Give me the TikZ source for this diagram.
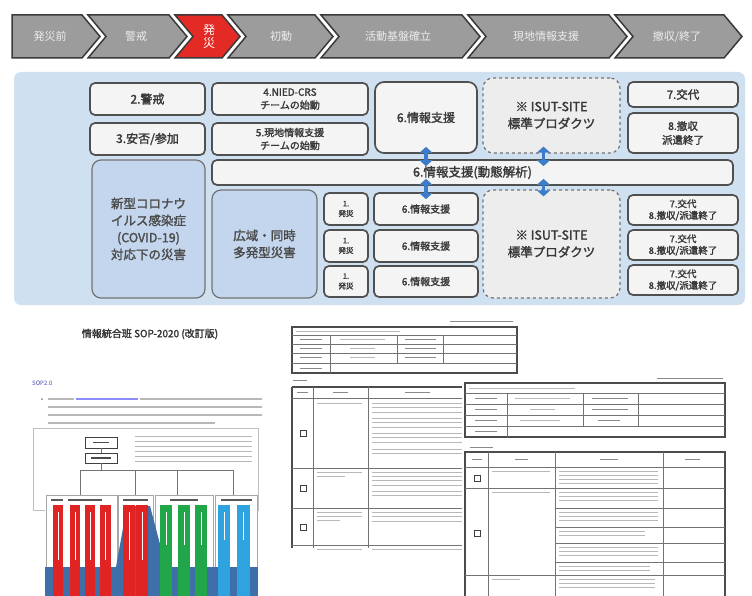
\documentclass[tikz,border=0pt]{standalone}
\usepackage{fontspec}
\setmainfont{Noto Sans CJK JP}[BoldFont={Noto Sans CJK JP},BoldFeatures={FakeBold=1.8}]
\usetikzlibrary{arrows.meta,calc}
\definecolor{panelbg}{HTML}{CFE0F1}
\definecolor{chevgray}{HTML}{9C9C9C}
\definecolor{chevred}{HTML}{E42A24}
\definecolor{chevline}{HTML}{3A3A3A}
\definecolor{boxline}{HTML}{505050}
\definecolor{boxfill}{HTML}{F4F4F4}
\definecolor{boxtext}{HTML}{383838}
\definecolor{blueboxfill}{HTML}{C3D6EE}
\definecolor{dashfill}{HTML}{EDEDED}
\definecolor{arrowblue}{HTML}{3D7CC9}
\definecolor{txtgray}{HTML}{B8B8B8}
\definecolor{txtdark}{HTML}{8A8A8A}
\definecolor{barred}{HTML}{E02424}
\definecolor{bargreen}{HTML}{22A64A}
\definecolor{barblue}{HTML}{2EA3E0}
\definecolor{basblue}{HTML}{3F6FA8}
\newcommand\fsz[2]{\fontsize{#1}{#2}\selectfont}
\newcommand\chev[3]{\filldraw[chevst,fill=#3] (#1,15) -- ({#2-18},15) -- (#2,36.5) -- ({#2-18},58) -- (#1,58) -- ({#1+18},36.5) -- cycle;}
\tikzset{
  chevst/.style={draw=chevline, line width=1.5pt, fill=chevgray},
  chevtxt/.style={text=white!85!gray, font=\fsz{11}{13}, inner sep=0pt},
  box/.style={draw=boxline, line width=1.7pt, fill=boxfill, rounded corners=5pt, text=boxtext, font=\bfseries, align=center, inner sep=1pt},
  bluebox/.style={box, fill=blueboxfill, text=boxtext!90!white, rounded corners=9pt, line width=1.2pt, draw=boxline!80!white},
  dbox/.style={draw=boxline!80!white, dashed, line width=1.2pt, fill=dashfill, rounded corners=10pt, text=boxtext, font=\bfseries, align=center},
  biarrow/.style={draw=arrowblue, line width=3.6pt, {Triangle[length=6pt,width=13pt]}-{Triangle[length=6pt,width=13pt]}, shorten <=-7pt, shorten >=-7pt},
  txt/.style={draw=txtgray, line width=1.3pt},
  txtd/.style={draw=txtdark, line width=1.3pt},
  rule/.style={draw=black!70, line width=0.8pt},
  rulethin/.style={draw=black!55, line width=0.5pt},
  chk/.style={draw=black!75, line width=0.8pt, minimum size=6pt, inner sep=0pt}
}
\begin{document}
\begin{tikzpicture}[x=1pt,y=-1pt]
\useasboundingbox (0,0) rectangle (752,596);
\fill[white] (0,0) rectangle (752,596);

% ---------- chevron bar ----------
\filldraw[chevst] (12,15) -- (82,15) -- (100,36.5) -- (82,58) -- (12,58) -- cycle;
\chev{88}{187}{chevgray}
\chev{175}{240}{chevred}
\chev{228}{333}{chevgray}
\chev{321}{480}{chevgray}
\chev{468}{627}{chevgray}
\chev{615}{742}{chevgray}
\node[chevtxt] (c1) at (50,36.5) {発災前};
\node[chevtxt] (c2) at (136,36.5) {警戒};
\node[chevtxt, text=white, align=center, font=\fsz{12}{13}] (c3) at (209,36.5) {発\\災};
\node[chevtxt] (c4) at (281,36.5) {初動};
\node[chevtxt] (c5) at (398,36.5) {活動基盤確立};
\node[chevtxt] (c6) at (546,36.5) {現地情報支援};
\node[chevtxt] (c7) at (677,36.5) {撤収/終了};

% ---------- blue panel ----------
\fill[panelbg, rounded corners=7pt] (14,72) rectangle (745,305);

% upper rows
\node[box, minimum width=115pt, minimum height=32pt, font=\bfseries\fsz{12}{14}] (warn) at (147.5,99) {2.警戒};
\node[box, minimum width=115pt, minimum height=32pt, font=\bfseries\fsz{12}{14}] (anpi) at (147.5,139) {3.安否/参加};
\node[box, minimum width=156pt, minimum height=32pt, font=\bfseries\fsz{10}{13}] (nied) at (290,99) {4.NIED-CRS\\チームの始動};
\node[box, minimum width=156pt, minimum height=32pt, font=\bfseries\fsz{10}{13}] (genchi) at (290,139) {5.現地情報支援\\チームの始動};
\node[box, minimum width=102pt, minimum height=71pt, rounded corners=9pt, font=\bfseries\fsz{12}{14}] (info1) at (426,117.5) {6.情報支援};
\node[dbox, minimum width=137pt, minimum height=75pt, font=\bfseries\fsz{12.5}{17}] (isut1) at (551.5,115.5) {※ ISUT-SITE\\標準プロダクツ};
\node[box, minimum width=110pt, minimum height=25pt, font=\bfseries\fsz{11.5}{13}] (kotai1) at (683,94.5) {7.交代};
\node[box, minimum width=110pt, minimum height=40pt, font=\bfseries\fsz{10.5}{14}] (tesshu1) at (683,133) {8.撤収\\派遣終了};

% middle bar
\node[box, minimum width=521pt, minimum height=25pt, font=\bfseries\fsz{12.5}{14}] (bar) at (472.5,172.5) {6.情報支援(動態解析)};

% lower rows
\node[bluebox, minimum width=113pt, minimum height=138pt, font=\bfseries\fsz{12.5}{17}] (covid) at (148.5,229) {新型コロナウ\\イルス感染症\\(COVID-19)\\対応下の災害};
\node[bluebox, minimum width=105pt, minimum height=108pt, font=\bfseries\fsz{12.5}{17}] (kouiki) at (264.5,244) {広域・同時\\多発型災害};

\node[box, minimum width=44pt, minimum height=32pt, font=\bfseries\fsz{7.5}{10}] (g1) at (346,209) {1.\\発災};
\node[box, minimum width=44pt, minimum height=32pt, font=\bfseries\fsz{7.5}{10}] (g2) at (346,246) {1.\\発災};
\node[box, minimum width=44pt, minimum height=31pt, font=\bfseries\fsz{7.5}{10}] (g3) at (346,281.5) {1.\\発災};

\node[box, minimum width=104pt, minimum height=32pt, font=\bfseries\fsz{10}{12}] (i2) at (426,209) {6.情報支援};
\node[box, minimum width=104pt, minimum height=32pt, font=\bfseries\fsz{10}{12}] (i3) at (426,246) {6.情報支援};
\node[box, minimum width=104pt, minimum height=31pt, font=\bfseries\fsz{10}{12}] (i4) at (426,281.5) {6.情報支援};

\node[dbox, minimum width=137pt, minimum height=108pt, font=\bfseries\fsz{12.5}{17}] (isut2) at (551.5,244) {※ ISUT-SITE\\標準プロダクツ};

\node[box, minimum width=110pt, minimum height=30pt, font=\bfseries\fsz{9.5}{11.5}] (k2) at (683,210) {7.交代\\8.撤収/派遣終了};
\node[box, minimum width=110pt, minimum height=30pt, font=\bfseries\fsz{9.5}{11.5}] (k3) at (683,245) {7.交代\\8.撤収/派遣終了};
\node[box, minimum width=110pt, minimum height=30pt, font=\bfseries\fsz{9.5}{11.5}] (k4) at (683,280) {7.交代\\8.撤収/派遣終了};

% blue arrows
\draw[biarrow] (info1.south) -- (info1.south |- bar.north);
\draw[biarrow] (i2.north |- bar.south) -- (i2.north);
\coordinate (au) at ($(isut1.south)+(-8,0)$);
\coordinate (ad) at ($(isut2.north)+(-8,0)$);
\draw[biarrow] (au) -- (au |- bar.north);
\draw[biarrow] (ad |- bar.south) -- (ad);

% ---------- lower left: SOP document ----------
\node[font=\bfseries\fsz{10}{12}, text=black!80] (sopT) at (150,334) {情報統合班 SOP-2020 (改訂版)};
\node[font=\fsz{6}{7}, text=blue!40!gray, anchor=west, inner sep=0pt] (sopH) at (32,383) {SOP2.0};
\fill[txtdark] (42,399) circle (1pt);
\draw[txt] (48,399) -- (74,399);
\draw[draw=blue!45!white, line width=1.3pt] (76,399) -- (138,399);
\draw[txt] (140,399) -- (262,399);
\draw[txt] (48,407) -- (262,407);
\draw[txt] (48,415) -- (262,415);
\draw[txt] (48,423) -- (215,423);
\draw[draw=black!25, line width=0.6pt] (33,428) rectangle (258,510);
% org chart
\node[draw=black!75, line width=0.7pt, minimum width=32pt, minimum height=11pt, inner sep=0pt] (ob1) at (101,442.5) {};
\node[draw=black!75, line width=0.7pt, minimum width=32pt, minimum height=10pt, inner sep=0pt] (ob2) at (101,458) {};
\draw[line width=1.4pt, black!70] (93,442.5) -- (109,442.5);
\draw[line width=1.4pt, black!70] (91,458) -- (111,458);
\draw[rulethin] (ob1) -- (ob2);
\foreach \yy in {436,441,446,451,456,461} {\draw[txt, line width=1pt] (135,\yy) -- (252,\yy);}
\coordinate (hl) at (80,470);
\coordinate (hr) at (233,470);
\draw[draw=black!55, line width=1pt] (ob2.south) -- (ob2.south |- hl);
\draw[draw=black!55, line width=1pt] (hl) -- (hr);
\foreach \xx in {80,135,177,233} {\draw[draw=black!55, line width=1pt] (\xx,470) -- (\xx,495);}
% group area
\fill[white] (45,495) rectangle (258,596);
\draw[draw=black!35, line width=0.6pt] (46,495) rectangle (117,567);
\draw[draw=black!35, line width=0.6pt] (118,495) rectangle (153,567);
\draw[draw=black!35, line width=0.6pt] (155,495) rectangle (213,567);
\draw[draw=black!35, line width=0.6pt] (215,495) rectangle (257,567);
\draw[line width=1.5pt, black!65] (51,500) -- (63,500);
\draw[line width=1.5pt, black!65] (68,500) -- (102,500);
\draw[line width=1.5pt, black!65] (123,500) -- (148,500);
\draw[line width=1.5pt, black!65] (170,500) -- (198,500);
\draw[line width=1.5pt, black!65] (221,500) -- (252,500);
% blue base and mountain
\fill[basblue] (45,567) rectangle (258,596);
\fill[basblue] (116,567) -- (127,506) -- (150,506) -- (166,567) -- cycle;
% bars
\foreach \xa/\xb in {53/63,70/80,85/95,100/111,123/135,136/148} {\fill[barred] (\xa,505) rectangle (\xb,596); \draw[white, line width=0.6pt] ({(\xa+\xb)/2},512) -- ({(\xa+\xb)/2},560);}
\foreach \xa/\xb in {160/172,178/190,195/207} {\fill[bargreen] (\xa,505) rectangle (\xb,596); \draw[white, line width=0.6pt] ({(\xa+\xb)/2},512) -- ({(\xa+\xb)/2},545);}
\foreach \xa/\xb in {218/230,237/250} {\fill[barblue] (\xa,505) rectangle (\xb,596); \draw[white, line width=0.6pt] ({(\xa+\xb)/2},512) -- ({(\xa+\xb)/2},540);}

% ---------- lower right: document A (back) ----------
\draw[txtd, line width=1pt] (450,321) -- (513,321);
\draw[rule, line width=1.2pt] (292,327) rectangle (517,373);
\draw[rulethin] (292,335) -- (517,335);
\draw[txt, line width=0.9pt] (296,331) -- (400,331);
\foreach \yy in {344,353,363} {\draw[rulethin] (292,\yy) -- (517,\yy);}
\draw[rulethin] (330,335) -- (330,373);
\draw[rulethin] (397,335) -- (397,363);
\draw[rulethin] (443,335) -- (443,363);
\draw[txtd, line width=1pt] (300,339.5) -- (322,339.5);
\draw[txtd, line width=1pt] (300,348.5) -- (322,348.5);
\draw[txtd, line width=1pt] (300,357.5) -- (322,357.5);
\draw[txtd, line width=1pt] (300,368) -- (322,368);
\draw[txtd, line width=1pt] (405,339.5) -- (436,339.5);
\draw[txtd, line width=1pt] (405,348.5) -- (436,348.5);
\draw[txtd, line width=1pt] (405,357.5) -- (436,357.5);
\draw[txt, line width=1pt] (340,339.5) -- (385,339.5);
\draw[txt, line width=1pt] (350,348.5) -- (375,348.5);
\draw[txt, line width=1pt] (350,357.5) -- (375,357.5);
\draw[txtd, line width=1pt] (293,380) -- (307,380);
\draw[rule, line width=1.2pt] (292,387) -- (470,387);
\draw[rule, line width=1.2pt] (292,387) -- (292,548);
\draw[rulethin] (292,398) -- (470,398);
\draw[rulethin] (313,387) -- (313,548);
\draw[rulethin] (368,387) -- (368,548);
\foreach \yy in {468,508,545} {\draw[rulethin] (292,\yy) -- (470,\yy);}
\draw[txtd, line width=1pt] (297,392.5) -- (308,392.5);
\draw[txtd, line width=1pt] (333,392.5) -- (348,392.5);
\draw[txtd, line width=1pt] (405,392.5) -- (430,392.5);
\node[chk] (ca1) at (303,433) {};
\node[chk] (ca2) at (303,488) {};
\node[chk] (ca3) at (303,527) {};
\foreach \yy in {403,407,412,418,422,427,433,437,442,449,453} {\draw[txt, line width=0.9pt] (372,\yy) -- (462,\yy);}
\draw[txt, line width=0.9pt] (317,403) -- (362,403);
\foreach \yy in {472,476,480,485,491,495} {\draw[txt, line width=0.9pt] (372,\yy) -- (462,\yy);}
\draw[txt, line width=0.9pt] (317,472) -- (362,472);
\draw[txt, line width=0.9pt] (317,476) -- (345,476);
\foreach \yy in {512,516,521} {\draw[txt, line width=0.9pt] (372,\yy) -- (462,\yy);}
\draw[txt, line width=0.9pt] (317,512) -- (362,512);
\draw[txt, line width=0.9pt] (317,516) -- (362,516);
\draw[txt, line width=0.9pt] (317,520) -- (340,520);
\draw[txt, line width=0.9pt] (317,549) -- (362,549);
\draw[txt, line width=0.9pt] (372,549) -- (462,549);

% ---------- lower right: document B (front) ----------
\fill[white] (462,374) rectangle (730,596);
\draw[txtd, line width=1pt] (657,378) -- (723,378);
\draw[rule, line width=1.2pt] (465,383) rectangle (725,437);
\draw[rulethin] (465,393) -- (725,393);
\draw[txt, line width=0.9pt] (469,388) -- (575,388);
\foreach \yy in {404,415,426} {\draw[rulethin] (465,\yy) -- (725,\yy);}
\draw[rulethin] (507,393) -- (507,437);
\draw[rulethin] (583,393) -- (583,426);
\draw[rulethin] (638,393) -- (638,426);
\draw[txtd, line width=1pt] (475,398.5) -- (497,398.5);
\draw[txtd, line width=1pt] (475,409.5) -- (497,409.5);
\draw[txtd, line width=1pt] (475,420.5) -- (497,420.5);
\draw[txtd, line width=1pt] (475,431.5) -- (497,431.5);
\draw[txtd, line width=1pt] (592,398.5) -- (628,398.5);
\draw[txtd, line width=1pt] (592,409.5) -- (628,409.5);
\draw[txtd, line width=1pt] (598,420.5) -- (620,420.5);
\draw[txt, line width=1pt] (515,398.5) -- (570,398.5);
\draw[txt, line width=1pt] (530,409.5) -- (555,409.5);
\draw[txt, line width=1pt] (520,420.5) -- (560,420.5);
\draw[txtd, line width=1pt] (470,447) -- (493,447);
\draw[rule, line width=1.2pt] (465,596) -- (465,452) -- (725,452) -- (725,596);
\draw[rulethin] (465,467) -- (725,467);
\draw[rulethin] (488,452) -- (488,596);
\draw[rulethin] (555,452) -- (555,596);
\draw[rulethin] (663,452) -- (663,596);
\draw[rulethin] (465,488) -- (725,488);
\draw[rulethin] (465,575) -- (725,575);
\foreach \yy in {508,527,543,562} {\draw[rulethin] (555,\yy) -- (725,\yy);}
\draw[txtd, line width=1pt] (472,459.5) -- (482,459.5);
\draw[txtd, line width=1pt] (515,459.5) -- (528,459.5);
\draw[txtd, line width=1pt] (600,459.5) -- (618,459.5);
\draw[txtd, line width=1pt] (685,459.5) -- (700,459.5);
\node[chk] (cb1) at (477,478) {};
\node[chk] (cb2) at (477,533) {};
\draw[txt, line width=0.9pt] (492,471) -- (550,471);
\draw[txt, line width=0.9pt] (492,492) -- (550,492);
\draw[txt, line width=0.9pt] (492,579) -- (520,579);
\foreach \yy in {471,475,479,483} {\draw[txt, line width=0.9pt] (559,\yy) -- (658,\yy);}
\foreach \yy in {492,496,500} {\draw[txt, line width=0.9pt] (559,\yy) -- (658,\yy);}
\foreach \yy in {512,516,520} {\draw[txt, line width=0.9pt] (559,\yy) -- (658,\yy);}
\foreach \yy in {531,535} {\draw[txt, line width=0.9pt] (559,\yy) -- (645,\yy);}
\foreach \yy in {547,551,555} {\draw[txt, line width=0.9pt] (559,\yy) -- (658,\yy);}
\foreach \yy in {566,570} {\draw[txt, line width=0.9pt] (559,\yy) -- (650,\yy);}
\foreach \yy in {579,583,587} {\draw[txt, line width=0.9pt] (559,\yy) -- (655,\yy);}
\end{tikzpicture}
\end{document}
